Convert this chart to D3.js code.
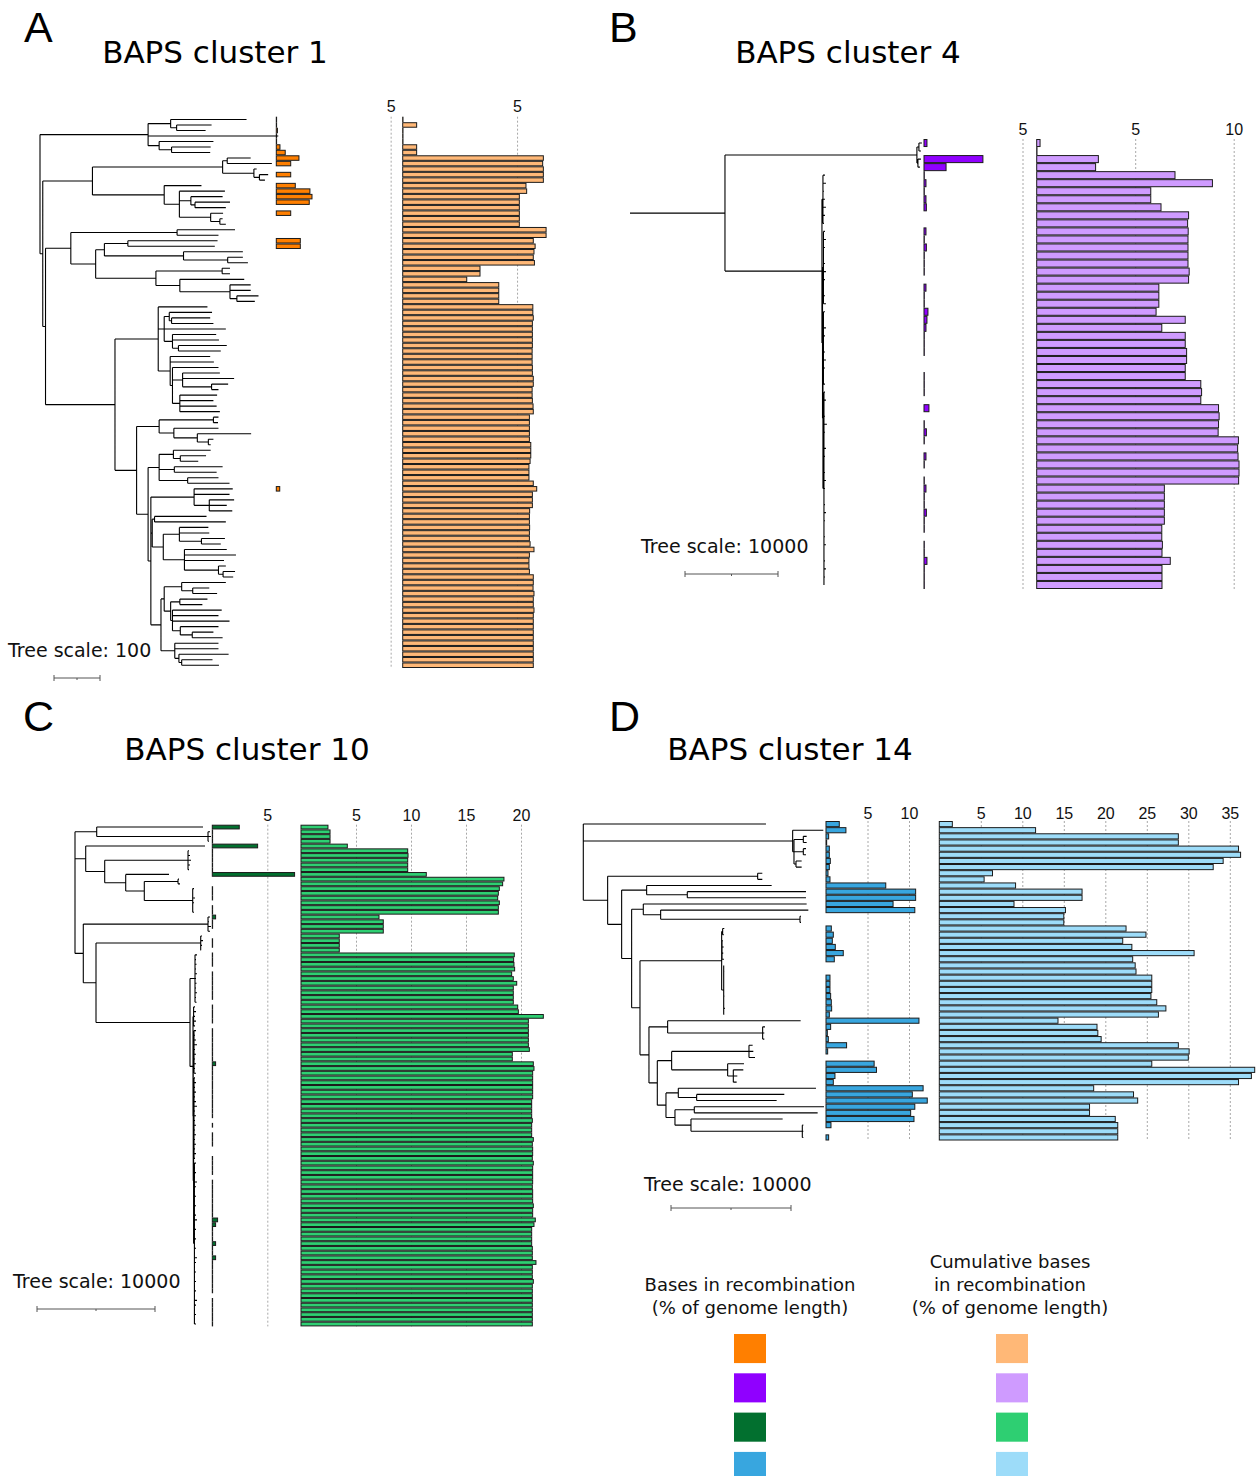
<!DOCTYPE html>
<html>
<head>
<meta charset="utf-8">
<script src="https://cdn.jsdelivr.net/npm/d3@7"></script>
<style>
  body { margin: 0; background: #fff; }
  svg { display: block; }
</style>
</head>
<body>
<div class="figure"></div>
<script>
// DATA

// trees: nested clades, number after ':' = distance of that node from the root (tree units)
// leaves are listed top to bottom, one per bar row
var treeA = '(' +
  '((:449,(:373,:360):297):284,:518,(:377,(:371,:370):286):259):235' + ',(' +
  '(((:458,:504):407,(:471,(:496,:489):477):465):397,(:351,(:402,(:397,(:413,:404):337):328,((:398,(:397,:404):391):371):310):303):270):114' + ',(' +
  '((:424,:388):298,(((:386,:380):191,(:441,(:441,:452):408):312):140,((:413,:413):396,(:444,(:458,:458,(:475,:467):428):413):304):252):121):67' + ',(' +
  '(:364,((:374,(:370,:377):286):281,:404,(:383,:389,(:406,:393):301):288):270,(:370,:378,(:388,(:391,:422,(:409,:388):373):310,(:385,:377,:384,:391):304):288):283):257' + ',' +
  '(((:388,:387):377,(:388,(:459,(:377,:371):366):342):291):259,(((:371,(:361,:344):305):290,(:397,:384):292,(:388,:412):321):259,((:419,:412,(:422,:406,:418):368):335,((:362,:404):249,((:366,:368,(:402,:393):351):303,(:406,:426,:400,(:404,(:424,:420):398):388):314):268):244,(((:404,(:368,:385):332):308,((:364,:353):304,(:395,:388,:412,(:388,(:377,(:397):335):331):305):288):284):270,(:388,:388,(:410,(:375,:389):308):302):293):263):241):235):210' +
  '):163):12):6):0';

var treeB = '((' +
  '((:31390,:31283):31067,(:31283,:31175):30960):30850' + ',(' +
  '(:20962,:21070,:20855,:20962,:21070,:20962,:20855):20747' + ',(' +
  '(:20962,:21070,:20962,:20855,:20962,:21070,:20962,:20855,:20962,:21070):20800' + ',(' +
  '(:20962,:20855,:21070,:20962,:20855,:20962,:21070,:20962,:20855,:20962):20800' + ',' +
  '(:20962,:21070,:20855,:20962,:21177,:20962,:20855,:21070,:20962,:20855,:20962,:21070,:20962,:20855,:20962,:21070,:20962,:20855,:20962,:21070,:20855,:20962,:21070,:20962,:20855):20855' +
  '):20747):20700):20640):10212):0';

var treeC = '(' +
  '(:10847,(:11441,:11526,:11356):11272):1839' + ',' +
  '(:11018,((:9662,:9746,:9831,:9746,:9662):9577,(:7967,((:8814,:8899):8729,(:10085,:10000,:10170,:10085,:10000,:10085):9975):5873):4297):2517):907' + ',' +
  '((:11441,:11356,:11526,:11441):11272,((:10763,:10848,:10763,:10678):10653,(' +
  '(:10340,:10255,:10300,:10255,:10340,:10255,:10300,:10255,:10340,:10255,:10300):10170' + ',' +
  '((:10170,:10255,:10170,:10255,:10170):10050,((:10255,:10170,:10255,:10340,:10170,:10255,:10170,:10255,:10170,:10255):10085,((:10170,:10255,:10170,:10255,:10170,:10255,:10340,:10170,:10255,:10170,:10255,:10170,:10255,:10170,:10255,:10170,:10255,:10170):10085,(:10255,:10170,:10255,:10170,:10340,:10255,:10170,:10255,:10170,:10255,:10170,:10255,:10340,:10170,:10255,:10170,:10255,:10170,:10255,:10170,:10340,:10255,:10170,:10255,:10170,:10255,:10170,:10255,:10170,:10340,:10255,:10170,:10255,:10170,:10255):10120):10050):10020):10000' +
  '):9746):1780):703' +
  '):0';

var treeD = '(:15223,' +
  '(:20000,((:18613,:18613):18335,(:18557,:18557):18335,(:18196,:18196):17724):17557):17446' + ',' +
  '((:14918,:14918):14529,((:15696,(:18557,:18557):8667):5278,((:18613,(:18752,(:18140,:18140):18057):6445):5000,(' +
  '((:11750,:11700):11612,(:11640,:11700,:11660,:11720):11560,(:11700,:11750,:11680,:11720,:11690,:11760,:11700,:11800,:11740):11700):11529' + ',' +
  '((:18113,(:15140,:15085,:15085):14945):7028,(((:14112,:14168,:14307):13807,(:13390,(:13334,:12834,:12779):12501):12029):7362,((:19390,(:16751,:16112):9445):7917,((:20057,:19529):9250,(:16612,(:18335,:18335,:18335):18251):8973):7639):6889):6167):5472' +
  '):4723):4028):3195):2028' +
  '):0';

// bases in recombination (% of genome length), one value per row, null = no bar
var recA = [0, 0, 0.05, 0, 0, 0.16, 0.39, 0.99, 0.63, null,
  0.63, null, 0.83, 1.47, 1.56, 1.44, null, 0.63, null, null,
  null, null, 1.05, 1.05, null, null, null, null, null, null,
  null, null, null, null, null, null, null, null, null, null,
  null, null, null, null, null, null, null, null, null, null,
  null, null, null, null, null, null, null, null, null, null,
  null, null, null, null, null, null, null, 0.15, null, null,
  null, null, null, null, null, null, null, null, null, null,
  null, null, null, null, null, null, null, null, null, null,
  null, null, null, null, null, null, null, null, null, null];

// cumulative bases in recombination (% of genome length)
var cumA = [0, 0.61, 0, 0, 0, 0.61, 0.61, 6.15, 6.12, 6.15,
  6.15, 6.15, 5.39, 5.42, 5.10, 5.10, 5.10, 5.10, 5.10, 5.10,
  6.27, 6.27, 5.71, 5.79, 5.74, 5.71, 5.76, 3.38, 3.38, 2.80,
  4.20, 4.20, 4.20, 4.20, 5.69, 5.69, 5.71, 5.67, 5.67, 5.67,
  5.67, 5.67, 5.66, 5.66, 5.66, 5.67, 5.67, 5.71, 5.71, 5.66,
  5.66, 5.67, 5.70, 5.71, 5.54, 5.54, 5.54, 5.54, 5.54, 5.60,
  5.60, 5.60, 5.57, 5.52, 5.52, 5.52, 5.71, 5.86, 5.67, 5.67,
  5.67, 5.55, 5.54, 5.54, 5.55, 5.54, 5.54, 5.57, 5.74, 5.54,
  5.52, 5.52, 5.54, 5.71, 5.71, 5.70, 5.74, 5.71, 5.71, 5.74,
  5.71, 5.71, 5.71, 5.71, 5.71, 5.71, 5.71, 5.71, 5.71, 5.71];

var recB = [0.15, null, 2.99, 1.12, 0, 0.1, 0, 0.1, 0.12, null,
  null, 0.1, 0, 0.12, 0, 0, 0, null, 0.1, 0,
  0, 0.2, 0.15, 0.1, 0, 0, 0, null, null, 0,
  0, 0, null, 0.25, null, 0, 0.12, 0, null, 0.1,
  0, null, 0, 0.1, 0, 0, 0.12, 0, 0, null,
  0, 0, 0.15, 0, 0, 0];

var cumB = [0.17, 0, 3.13, 2.99, 7.02, 8.92, 5.79, 5.79, 6.31, 7.71,
  7.66, 7.69, 7.68, 7.68, 7.68, 7.68, 7.74, 7.71, 6.2, 6.2,
  6.2, 6.06, 7.54, 6.35, 7.54, 7.54, 7.61, 7.61, 7.54, 7.54,
  8.33, 8.37, 8.33, 9.23, 9.26, 9.23, 9.21, 10.24, 10.2, 10.22,
  10.27, 10.27, 10.25, 6.48, 6.48, 6.48, 6.48, 6.48, 6.35, 6.35,
  6.38, 6.36, 6.78, 6.36, 6.36, 6.36];

var recC = [2.45, 0, 0, 0, 4.12, 0, 0, 0, 0, 0,
  7.48, null, null, 0, 0, 0, null, 0, 0, 0.3,
  0, 0, null, null, 0, 0, null, 0, 0, 0,
  null, 0, 0, 0, 0, 0, 0, null, 0, 0,
  0, 0, null, 0, 0, 0, 0, 0, 0, 0,
  0.3, 0, 0, 0, 0, 0, 0, 0, 0, 0,
  0, 0, null, 0, null, 0, 0, 0, null, null,
  0, 0, 0, 0, null, 0, 0, 0, 0, 0,
  0, 0, 0, 0.48, 0.3, 0, 0, 0, 0.3, 0,
  0, 0.3, 0, 0, 0, 0, 0, 0, 0, null,
  0, 0, 0, 0, 0, 0];

var cumC = [2.45, 2.64, 2.64, 2.64, 4.21, 9.70, 9.73, 9.70, 9.70, 9.70,
  11.39, 18.45, 18.33, 18.03, 17.94, 17.88, 18.03, 17.94, 17.94, 7.09,
  7.48, 7.48, 7.48, 3.48, 3.48, 3.48, 3.48, 19.39, 19.33, 19.36,
  19.42, 19.15, 19.30, 19.61, 19.30, 19.30, 19.30, 19.30, 19.70, 19.76,
  22.03, 20.67, 20.67, 20.67, 20.67, 20.67, 20.67, 20.76, 19.21, 19.21,
  21.12, 21.18, 21.06, 21.06, 21.06, 21.06, 21.06, 21.06, 20.97, 20.97,
  20.97, 20.97, 21.03, 20.97, 20.97, 20.97, 21.12, 21.03, 21.06, 21.06,
  21.03, 21.12, 21.06, 21.06, 21.06, 21.06, 21.03, 21.06, 21.06, 21.06,
  21.12, 21.06, 21.06, 21.30, 21.18, 20.97, 20.97, 20.97, 20.97, 21.03,
  21.03, 21.03, 21.36, 21.03, 21.03, 21.03, 21.12, 21.03, 21.03, 21.03,
  21.03, 21.03, 21.03, 21.03, 21.03, 21.03];

var recD = [1.6, 2.4, 0.32, 0.08, 0.4, 0.4, 0.52, 0.4, 0.24, 0.48,
  7.2, 10.8, 10.8, 8.08, 10.7, null, null, 0.64, 0.88, 0.76,
  1.12, 2.08, 1.0, null, null, 0.48, 0.48, 0.48, 0.56, 0.64,
  0.68, 0.4, 11.2, 0.56, 0.16, 0.28, 2.48, 0.2, null, 5.8,
  6.08, 1.08, 0.88, 11.7, 10.4, 12.2, 10.7, 10.2, 10.6, 0.6,
  null, 0.32];

var cumD = [1.57, 11.6, 28.8, 28.8, 36.05, 36.3, 34.2, 33.0, 6.41, 5.4,
  9.19, 17.2, 17.2, 9.0, 15.2, 15.0, 15.0, 22.5, 24.9, 22.1,
  23.2, 30.7, 23.3, 23.6, 23.7, 25.6, 25.6, 25.6, 25.5, 26.2,
  27.3, 26.4, 14.3, 19.0, 19.1, 19.5, 28.8, 30.1, 30.0, 25.6,
  38.0, 37.6, 36.05, 18.6, 23.4, 23.9, 18.1, 18.1, 21.2, 21.5,
  21.5, 21.5];

// tick labels
var recTicksA = [5], cumTicksA = [5];
var recTicksB = [5], cumTicksB = [5, 10];
var recTicksC = [5], cumTicksC = [5, 10, 15, 20];
var recTicksD = [5, 10], cumTicksD = [5, 10, 15, 20, 25, 30, 35];

var letters = ['A', 'B', 'C', 'D'];
var titles = ['BAPS cluster 1', 'BAPS cluster 4', 'BAPS cluster 10', 'BAPS cluster 14'];
var treeScaleUnits = [100, 10000, 10000, 10000];

var recColors = ['#ff7f00', '#9000ff', '#02702f', '#38a6df'];
var cumColors = ['#ffb877', '#cf9bff', '#2ecf72', '#9ddcf9'];

var legendLeft = ['Bases in recombination', '(% of genome length)'];
var legendRight = ['Cumulative bases', 'in recombination', '(% of genome length)'];

// LAYOUT

var W = 1258, H = 1476;
var narrow = '"Liberation Sans Narrow", "Liberation Sans", Arial, sans-serif';
var sans = '"DejaVu Sans", Verdana, sans-serif';

var panels = [
  {tree: treeA, rec: recA, cum: cumA, recTicks: recTicksA, cumTicks: cumTicksA,
   letterX: 24, letterY: 42, titleX: 215, titleY: 63,
   top: 116.7, bottom: 668, recX: 276.3, cumX: 402.7, k: 22.87, labelY: 112,
   treeX: 40, treePx: 46, scaleX: 54, scaleY: 678, textX: 8, textY: 657},
  {tree: treeB, rec: recB, cum: cumB, recTicks: recTicksB, cumTicks: cumTicksB,
   letterX: 609, letterY: 42, titleX: 848, titleY: 63,
   top: 139, bottom: 589, recX: 924, cumX: 1036.7, k: 19.7, labelY: 135,
   treeX: 630, treePx: 93, scaleX: 685, scaleY: 574, textX: 641, textY: 553},
  {tree: treeC, rec: recC, cum: cumC, recTicks: recTicksC, cumTicks: cumTicksC,
   letterX: 23, letterY: 731, titleX: 247, titleY: 760,
   top: 824.7, bottom: 1326.4, recX: 212.3, cumX: 301, k: 11, labelY: 821,
   treeX: 75, treePx: 118, scaleX: 37, scaleY: 1309, textX: 13, textY: 1288},
  {tree: treeD, rec: recD, cum: cumD, recTicks: recTicksD, cumTicks: cumTicksD,
   letterX: 609, letterY: 731, titleX: 790, titleY: 760,
   top: 821, bottom: 1140.5, recX: 826, cumX: 939.3, k: 8.3, labelY: 819,
   treeX: 583.3, treePx: 120, scaleX: 671, scaleY: 1208, textX: 644, textY: 1191}
];

var svg = d3.select('.figure').append('svg')
  .attr('width', W)
  .attr('height', H);

// read the nested clade string into {children, dist}
var parseTree = function (s) {
  var i = 0;
  var readNode = function () {
    var node = {children: []};
    if (s[i] === '(') {
      i++;
      node.children.push(readNode());
      while (s[i] === ',') {
        i++;
        node.children.push(readNode());
      }
      i++; // ')'
    }
    if (s[i] === ':') {
      i++;
      var j = i;
      while (i < s.length && '0123456789.'.indexOf(s[i]) >= 0) i++;
      node.dist = +s.slice(j, i);
    }
    return node;
  };
  return readNode();
};

var drawAxis = function (g, xs, ticks, p) {
  var axis = g.append('g')
    .attr('transform', 'translate(0,' + p.top + ')')
    .call(d3.axisTop(xs)
      .tickValues(ticks)
      .tickSize(-(p.bottom - p.top))
      .tickPadding(p.top - p.labelY)
      .tickFormat(d3.format('d')));
  axis.select('.domain').remove();
  axis.selectAll('line')
    .attr('stroke', '#a8a8a8')
    .attr('stroke-dasharray', '2,2');
  axis.selectAll('text')
    .attr('font-family', narrow)
    .attr('font-size', 16)
    .attr('fill', '#111');
};

var drawBars = function (g, values, xs, y, fill) {
  var rows = values.map(function (v, i) { return {v: v, i: i}; })
    .filter(function (d) { return d.v !== null; });
  g.append('g').selectAll('rect')
    .data(rows)
    .enter()
    .append('rect')
    .attr('x', xs(0))
    .attr('y', function (d) { return y(d.i) + 0.5; })
    .attr('width', function (d) { return Math.max(xs(d.v) - xs(0), 0.3); })
    .attr('height', y.bandwidth() - 1)
    .attr('fill', fill)
    .attr('stroke', '#1b1b1b')
    .attr('stroke-width', 1);
};

var drawTree = function (g, p, y, units) {
  var root = d3.hierarchy(parseTree(p.tree));
  var tx = d3.scaleLinear().domain([0, units]).range([p.treeX, p.treeX + p.treePx]);

  root.leaves().forEach(function (d, i) { d.ty = y(i) + y.bandwidth() / 2; });
  root.eachAfter(function (d) {
    if (d.children) d.ty = (d.children[0].ty + d.children[d.children.length - 1].ty) / 2;
  });

  var path = '';
  root.each(function (d) {
    if (d.parent) {
      path += 'M' + tx(d.parent.data.dist) + ',' + d.ty + 'H' + tx(d.data.dist);
    }
    if (d.children) {
      path += 'M' + tx(d.data.dist) + ',' + d.children[0].ty +
        'V' + d.children[d.children.length - 1].ty;
    }
  });
  g.append('path')
    .attr('d', path)
    .attr('fill', 'none')
    .attr('stroke', '#000')
    .attr('stroke-width', 1.1);

  // tree scale bar
  var len = tx(units) - tx(0);
  var sb = g.append('g').attr('stroke', '#555').attr('stroke-width', 1);
  sb.append('line')
    .attr('x1', p.scaleX).attr('x2', p.scaleX + len)
    .attr('y1', p.scaleY).attr('y2', p.scaleY);
  [0, len].forEach(function (dx) {
    sb.append('line')
      .attr('x1', p.scaleX + dx).attr('x2', p.scaleX + dx)
      .attr('y1', p.scaleY - 3).attr('y2', p.scaleY + 3);
  });
  sb.append('line')
    .attr('x1', p.scaleX + len / 2).attr('x2', p.scaleX + len / 2)
    .attr('y1', p.scaleY).attr('y2', p.scaleY + 2);

  g.append('text')
    .attr('x', p.textX).attr('y', p.textY)
    .attr('font-family', sans).attr('font-size', 19)
    .attr('fill', '#111')
    .text('Tree scale: ' + units);
};

panels.forEach(function (p, idx) {
  var g = svg.append('g');
  var n = p.cum.length;
  var y = d3.scaleBand().domain(d3.range(n)).range([p.top, p.bottom]);

  var recMax = d3.max(p.recTicks.concat(p.rec.filter(function (v) { return v !== null; })));
  var cumMax = d3.max(p.cumTicks.concat(p.cum));
  var xRec = d3.scaleLinear().domain([0, recMax]).range([p.recX, p.recX + p.k * recMax]);
  var xCum = d3.scaleLinear().domain([0, cumMax]).range([p.cumX, p.cumX + p.k * cumMax]);

  drawAxis(g, xRec, p.recTicks, p);
  drawAxis(g, xCum, p.cumTicks, p);

  drawBars(g, p.rec, xRec, y, recColors[idx]);
  drawBars(g, p.cum, xCum, y, cumColors[idx]);

  drawTree(g, p, y, treeScaleUnits[idx]);

  g.append('text')
    .attr('x', p.letterX).attr('y', p.letterY)
    .attr('font-family', '"Liberation Sans", Arial, sans-serif')
    .attr('font-size', 43)
    .attr('fill', '#000')
    .text(letters[idx]);

  g.append('text')
    .attr('x', p.titleX).attr('y', p.titleY)
    .attr('text-anchor', 'middle')
    .attr('font-family', sans)
    .attr('font-size', 31)
    .attr('fill', '#000')
    .text(titles[idx]);
});

// LEGEND
var legend = svg.append('g')
  .attr('font-family', sans)
  .attr('font-size', 18)
  .attr('fill', '#111')
  .attr('text-anchor', 'middle');

legend.selectAll('text.left')
  .data(legendLeft)
  .enter().append('text')
  .attr('class', 'left')
  .attr('x', 750)
  .attr('y', function (d, i) { return 1291 + i * 23; })
  .text(function (d) { return d; });

legend.selectAll('text.right')
  .data(legendRight)
  .enter().append('text')
  .attr('class', 'right')
  .attr('x', 1010)
  .attr('y', function (d, i) { return 1268 + i * 23; })
  .text(function (d) { return d; });

var swatchY = d3.scaleBand().domain(d3.range(4)).range([1334, 1481]).paddingInner(0.26);

legend.selectAll('rect.rec')
  .data(recColors)
  .enter().append('rect')
  .attr('class', 'rec')
  .attr('x', 734).attr('width', 32)
  .attr('y', function (d, i) { return swatchY(i); })
  .attr('height', swatchY.bandwidth())
  .attr('fill', function (d) { return d; });

legend.selectAll('rect.cum')
  .data(cumColors)
  .enter().append('rect')
  .attr('class', 'cum')
  .attr('x', 996).attr('width', 32)
  .attr('y', function (d, i) { return swatchY(i); })
  .attr('height', swatchY.bandwidth())
  .attr('fill', function (d) { return d; });
</script>
